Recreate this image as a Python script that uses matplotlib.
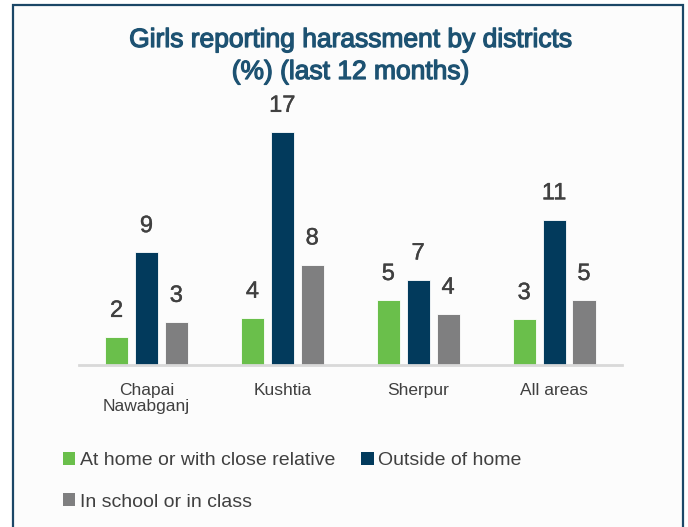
"""Grouped bar chart: girls reporting harassment by district."""

import matplotlib

matplotlib.use("Agg")

import matplotlib.patheffects as pe
import matplotlib.pyplot as plt
from matplotlib.font_manager import fontManager
from matplotlib.patches import Patch, Rectangle

districts = ["Chapai\nNawabganj", "Kushtia", "Sherpur", "All areas"]
series_names = ["At home or with close relative", "Outside of home", "In school or in class"]

# bar heights
at_home = [2.0, 3.4, 4.7, 3.3]
outside_home = [8.2, 17.0, 6.2, 10.6]
in_school = [3.1, 7.3, 3.7, 4.7]

# printed labels as shown above the bars
at_home_labels = ["2", "4", "5", "3"]
outside_home_labels = ["9", "17", "7", "11"]
in_school_labels = ["3", "8", "4", "5"]

colors = ["#6abf4b", "#023a5c", "#7f7f80"]
text_grey = "#404040"
title_color = "#1d5272"

installed = {f.name for f in fontManager.ttflist}
narrow = "Liberation Sans Narrow" if "Liberation Sans Narrow" in installed else "Liberation Sans"
plt.rcParams["font.family"] = ["Liberation Sans", "DejaVu Sans"]

W, H = 688, 527
fig = plt.figure(figsize=(W / 100, H / 100), dpi=100)
fig.patch.set_facecolor("white")

# framed panel behind everything
fig.patches.append(Rectangle((13 / W, -0.05), (683 - 13) / W, 1.05 - 5 / H,
                             transform=fig.transFigure, facecolor="#fcfcfc",
                             edgecolor="#1b4767", linewidth=1.6, zorder=-5))

x0, x1, y_base, y_top = 78.5, 622, 364.5, 110
ax = fig.add_axes([x0 / W, 1 - y_base / H, (x1 - x0) / W, (y_base - y_top) / H])
ax.set_facecolor("none")

offsets = [-0.22, 0.0, 0.22]
width = 0.17
groups = [at_home, outside_home, in_school]
labels = [at_home_labels, outside_home_labels, in_school_labels]
bold_grey = [pe.withStroke(linewidth=0.3, foreground=text_grey)]
handles = []
for vals, labs, off, col, name in zip(groups, labels, offsets, colors, series_names):
    xs = [i + off for i in range(len(districts))]
    bars = ax.bar(xs, vals, width, color=col, edgecolor="white", linewidth=0.6, zorder=2)
    texts = ax.bar_label(bars, labels=labs, padding=11, fontsize=17, color=text_grey, family=narrow)
    for t in texts:
        t.set_path_effects(bold_grey)
    handles.append(Patch(facecolor=col, label=name))

ax.set_xlim(-0.5, len(districts) - 0.5)
ax.set_ylim(0, (y_base - y_top) / 13.67)
ax.set_xticks(range(len(districts)))
ax.set_xticklabels(districts, fontsize=12.5, color=text_grey, linespacing=1.15)
ax.tick_params(axis="x", length=0, pad=13)
ax.set_yticks([])
for side in ["left", "right", "top"]:
    ax.spines[side].set_visible(False)
ax.spines["bottom"].set_color("#d9d9d9")
ax.spines["bottom"].set_linewidth(2)

title_fx = [pe.withStroke(linewidth=0.9, foreground=title_color)]
fig.text(351 / W, 1 - 40 / H, "Girls reporting harassment by districts",
         ha="center", va="center", fontsize=19, color=title_color, family=narrow,
         path_effects=title_fx)
fig.text(351 / W, 1 - 72 / H, "(%) (last 12 months)",
         ha="center", va="center", fontsize=19, color=title_color, family=narrow,
         path_effects=title_fx)

order = [handles[0], handles[2], handles[1]]
fig.legend(handles=order, labels=[h.get_label() for h in order], ncol=2,
           loc="upper left", bbox_to_anchor=(53 / W, 1 - 442 / H),
           frameon=False, fontsize=14, labelcolor=text_grey,
           handlelength=0.65, handleheight=0.65, handletextpad=0.25,
           columnspacing=1.3, labelspacing=1.25, borderpad=0)

fig.savefig("out.png", dpi=100)
